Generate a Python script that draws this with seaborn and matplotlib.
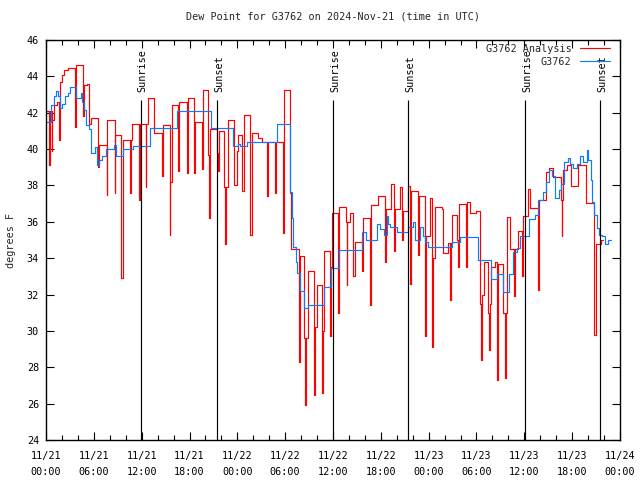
import pandas as pd
import seaborn as sns
import matplotlib
matplotlib.use('Agg')
import matplotlib.pyplot as plt
from matplotlib.ticker import MultipleLocator

# hours since 2024-11-21 00:00 UTC, dew point in degrees F (step data)
red_hours = [
    0.0, 0.35, 0.45, 0.7, 0.8, 1.05, 1.4, 1.65, 1.75, 2.0, 2.3, 2.8, 3.65, 3.8,
    4.6, 4.65, 4.75, 5.2, 5.35, 5.6, 6.55, 6.65, 7.6, 7.7, 8.6, 8.7, 9.4, 9.6,
    10.5, 10.6, 10.8, 11.67, 11.8, 12.5, 12.6, 12.8, 13.55, 14.6, 14.7, 15.5,
    15.6, 15.8, 16.6, 16.7, 17.65, 17.75, 18.55, 18.65, 19.6, 19.7, 20.3, 20.45,
    20.55, 21.45, 21.6, 21.7, 22.37, 22.45, 22.55, 22.87, 23.63, 23.92, 24.13,
    24.63, 24.88, 25.63, 25.8, 26.64, 27.05, 27.7, 27.8, 28.73, 28.85, 29.69,
    29.9, 30.61, 30.75, 31.74, 31.86, 32.4, 32.55, 32.65, 32.9, 33.6, 33.72,
    33.95, 34.65, 34.75, 34.91, 35.62, 35.8, 35.92, 36.62, 36.72, 37.63, 37.7,
    37.8, 38.13, 38.47, 38.76, 39.6, 39.8, 40.6, 40.77, 41.6, 42.5, 42.7, 43.28,
    43.6, 43.77, 44.35, 44.65, 44.82, 45.45, 45.65, 45.8, 46.62, 46.75, 47.5,
    47.65, 48.17, 48.46, 48.6, 48.79, 49.63, 49.84, 50.39, 50.72, 50.82, 50.97,
    51.52, 51.68, 51.78, 51.85, 52.7, 52.8, 53.19, 53.9, 54.5, 54.6, 54.7,
    54.98, 55.5, 55.6, 55.7, 55.8, 56.3, 56.62, 56.72, 57.37, 57.6, 57.7,
    57.83, 58.2, 58.7, 58.8, 59.2, 59.7, 59.8, 60.5, 60.71, 61.7, 61.8, 62.68,
    63.1, 63.64, 64.56, 64.7, 64.78, 64.9, 65.3, 65.8, 66.77, 67.74, 68.74,
    68.95, 69.57, 69.83,
]
red_vals = [
    42.1, 39.1, 42.1, 39.9, 41.6, 42.4, 42.6, 40.5, 43.7, 44.1, 44.35, 44.45, 41.2, 44.65,
    43.4, 41.8, 43.5, 43.6, 41.4, 41.7, 39.0, 40.2, 37.5, 41.6, 37.6, 40.8, 32.9, 40.5,
    37.6, 40.5, 41.4, 37.2, 41.4, 37.9, 41.4, 42.83, 40.9, 38.5, 41.35, 35.3,
    38.2, 42.4, 38.8, 42.6, 38.7, 42.8, 38.7, 41.5, 38.9, 43.25, 39.7, 36.2,
    41.1, 39.8, 38.8, 41.0, 37.9, 34.8, 37.9, 41.6, 38.0, 39.9, 40.8,
    37.7, 41.9, 35.3, 40.9, 40.6, 40.4, 37.4, 40.4, 37.6, 40.4, 35.4,
    43.25, 37.6, 34.5, 28.3, 34.1, 29.6, 25.9, 29.6, 33.3, 26.5, 30.2,
    32.5, 26.6, 30.0, 34.4, 29.7, 33.5, 36.5, 31.0, 36.8, 36.0, 32.5,
    36.0, 36.5, 33.0, 34.9, 33.3, 36.2, 31.4, 36.9, 37.4, 33.8, 36.7, 38.1,
    34.4, 36.7, 37.9, 35.0, 36.6, 37.97, 32.6, 37.7, 34.2, 37.4, 29.7,
    35.2, 37.3, 29.1, 34.0, 36.8, 36.7, 34.3, 34.85, 31.7, 34.85, 36.4,
    35.0, 33.5, 35.5, 36.96, 33.5, 37.1, 36.5, 36.6, 31.5, 28.4, 32.0,
    33.8, 31.0, 28.95, 31.5, 33.5, 33.8, 27.3, 33.7, 31.0, 27.4, 31.0,
    36.25, 34.5, 31.9, 34.5, 35.5, 33.0, 36.3, 37.8, 36.75, 32.25, 37.2, 38.76,
    38.98, 38.45, 37.2, 35.2, 37.2, 38.85, 39.1, 37.97, 39.1, 37.05, 29.8,
    34.8, 35.0, 35.0,
]

blue_hours = [
    0.0, 0.6, 1.0, 1.3, 1.5, 1.75, 2.05, 2.4, 2.7, 3.0, 3.8, 4.35, 4.55, 4.75,
    5.05, 5.4, 5.7, 6.2, 6.45, 6.65, 7.05, 7.5, 8.5, 8.75, 9.6, 10.95, 13.1,
    16.4, 20.65, 23.42, 24.13, 24.34, 25.26, 28.93, 30.61, 30.82, 31.03, 31.36,
    31.53, 31.86, 32.36, 32.91, 33.3, 34.91, 35.71, 36.75, 39.6, 40.1, 41.48,
    41.9, 42.4, 42.73, 42.94, 43.15, 43.98, 45.45, 46.07, 46.28, 46.91, 47.25,
    47.54, 47.96, 50.89, 51.93, 54.23, 55.49, 55.82, 56.53, 57.37, 58.08,
    58.63, 59.04, 59.46, 60.59, 61.34, 61.76, 62.38, 62.68, 63.1, 63.51,
    63.85, 64.35, 64.6, 65.02, 65.44, 65.73, 66.15, 66.57, 66.99, 67.41,
    67.82, 68.03, 68.33, 68.54, 68.74, 69.08, 69.37, 69.71, 70.13, 70.54, 70.83,
]
blue_vals = [
    41.5, 42.4, 42.9, 43.2, 42.9, 42.25, 42.5, 42.9, 43.1, 43.4, 42.8, 43.1, 42.6, 42.15,
    41.3, 41.1, 39.8, 40.1, 39.1, 39.4, 39.6, 40.0, 40.2, 39.6, 40.0, 40.15, 41.15,
    42.1, 41.15, 40.15, 40.3, 40.15, 40.4, 41.4, 37.65, 36.2, 34.6, 33.8,
    33.2, 32.2, 31.25, 31.4, 31.45, 32.4, 33.45, 34.45, 35.46, 35.0, 35.9,
    35.6, 35.3, 36.3, 35.9, 35.7, 35.46, 35.7, 36.0, 35.0, 35.7, 35.2,
    34.9, 34.6, 34.9, 35.15, 33.9, 33.9, 32.85, 33.13, 32.16, 33.13,
    34.36, 34.55, 35.2, 36.15, 36.4, 37.2, 37.66, 38.2, 38.85, 38.5,
    37.3, 37.75, 38.1, 39.3, 39.5, 39.2, 38.95, 39.2, 39.6, 39.3,
    39.95, 39.4, 38.3, 37.1, 36.4, 35.65, 35.3, 35.2, 34.8, 35.0, 35.0,
]

sunrise_hours = [11.92, 36.04, 60.13]
sunset_hours = [21.49, 45.45, 69.53]

tick_hours = list(range(0, 73, 6))
tick_labels = [
    '11/21\n00:00', '11/21\n06:00', '11/21\n12:00', '11/21\n18:00',
    '11/22\n00:00', '11/22\n06:00', '11/22\n12:00', '11/22\n18:00',
    '11/23\n00:00', '11/23\n06:00', '11/23\n12:00', '11/23\n18:00',
    '11/24\n00:00',
]

FS = 7.3

sns.set_theme(style='ticks')
plt.rcParams['font.family'] = ['DejaVu Sans Mono', 'DejaVu Sans']
plt.rcParams['font.size'] = FS

red = pd.DataFrame({'hour': red_hours, 'dewpoint': red_vals})
blue = pd.DataFrame({'hour': blue_hours, 'dewpoint': blue_vals})

fig = plt.figure(figsize=(6.4, 4.8), dpi=100)
ax = fig.add_axes([46 / 640, 40 / 480, 574 / 640, 400 / 480])

sns.lineplot(data=red, x='hour', y='dewpoint', ax=ax, estimator=None,
             drawstyle='steps-post', color='#ff0000', lw=0.85,
             label='G3762 Analysis')
sns.lineplot(data=blue, x='hour', y='dewpoint', ax=ax, estimator=None,
             drawstyle='steps-post', color='#0a7cff', lw=0.85, label='G3762')

# sunrise / sunset markers
for hours, name in [(sunrise_hours, 'Sunrise'), (sunset_hours, 'Sunset')]:
    ax.vlines(hours, 24, 42.7, color='black', lw=0.85, zorder=3)
    for h in hours:
        ax.text(h + 0.2, 43.15, name, rotation=90, ha='center', va='bottom',
                fontsize=FS, color='black')

ax.set_xlim(0, 72)
ax.set_ylim(24, 46)
ax.set_xticks(tick_hours, tick_labels, linespacing=1.75)
ax.xaxis.set_minor_locator(MultipleLocator(2))
ax.yaxis.set_major_locator(MultipleLocator(2))
ax.tick_params(which='both', direction='in', top=True, right=True,
               colors='black', labelsize=FS, width=0.8)
ax.tick_params(which='major', length=6)
ax.tick_params(axis='x', which='major', pad=8)
ax.tick_params(axis='y', which='major', pad=5)
ax.tick_params(which='minor', length=3.5)
for s in ax.spines.values():
    s.set_color('black')
    s.set_linewidth(1)

ax.set_xlabel('')
ax.set_ylabel('degrees F', fontsize=FS, labelpad=8)
ax.set_title('Dew Point for G3762 on 2024-Nov-21 (time in UTC)', fontsize=FS, pad=15)

ax.legend(loc='upper right', bbox_to_anchor=(0.9826, 0.99), frameon=False,
          markerfirst=False, fontsize=FS, handlelength=3.0, handletextpad=0.8,
          labelspacing=0.3, borderaxespad=0, borderpad=0)

fig.savefig('out.png', dpi=100)
